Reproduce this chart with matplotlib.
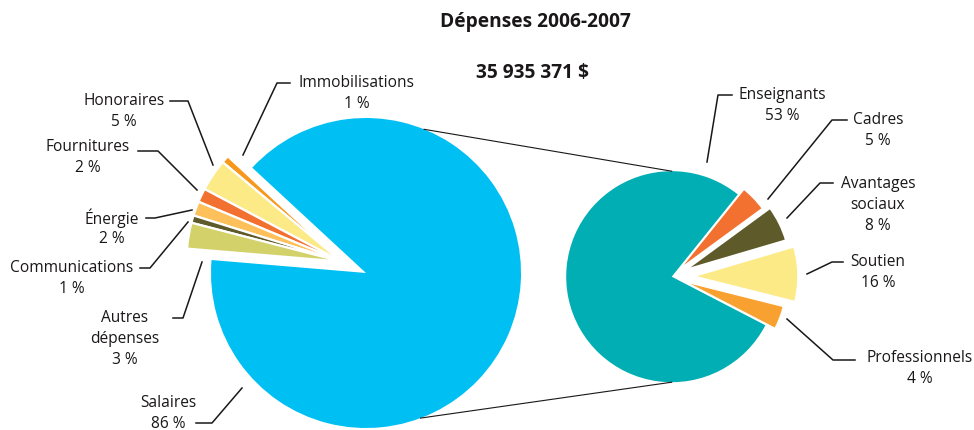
import matplotlib
matplotlib.use('Agg')
import matplotlib.pyplot as plt
import numpy as np

W, H = 974, 430

# left pie : total spending
left_names = ['Immobilisations', 'Honoraires', 'Fournitures', 'Énergie',
              'Communications', 'Autres\ndépenses', 'Salaires']
left_pct = [1, 5, 2, 2, 1, 3, 86]
# slice sizes as they are drawn in the source picture (degrees)
left_angles = [2.9, 12.0, 5.2, 5.4, 2.8, 9.7, 322.0]
left_colors = ['#F7981D', '#FCEA87', '#F37130', '#FDC05A', '#5E5A2A', '#D3D16A', '#00BFF3']

# right pie : detail of salaries
right_names = ['Cadres', 'Avantages\nsociaux', 'Soutien', 'Professionnels', 'Enseignants']
right_pct = [5, 8, 16, 4, 53]
right_angles = [15.0, 19.8, 30.5, 13.3, 281.4]
right_colors = ['#F37130', '#5E5A2A', '#FCEA87', '#F9A130', '#00AEB3']

title = 'Dépenses 2006-2007'
total = '35 935 371 $'

plt.rcParams['font.family'] = ['Open Sans', 'DejaVu Sans']
txt_col = '#1A1718'

fig = plt.figure(figsize=(W / 100, H / 100), dpi=100)
ax = fig.add_axes([0, 0, 1, 1])

# pixel coords (from top) -> data coords
def P(x, y):
    return (x, H - y)

# left pie
lc, lr = P(366, 273), 155
lw, _ = ax.pie(left_angles, colors=left_colors, startangle=137.2, counterclock=True,
               center=lc, radius=lr,
               wedgeprops=dict(edgecolor='white', linewidth=1.6))
# the small slices are pulled out together
a = np.radians(155)
shift = (lc[0] + 27 * np.cos(a), lc[1] + 27 * np.sin(a))
for w in lw[:-1]:
    w.set_center(shift)
lw[-1].set_linewidth(0)

# right pie (explode is in data units here, so scale by radius)
rc, rr = P(671.7, 276.7), 105.5
rw, _ = ax.pie(right_angles, colors=right_colors, startangle=51.2, counterclock=False,
               center=rc, radius=rr,
               explode=[e * rr for e in [0.08, 0.14, 0.2, 0.1, 0]],
               wedgeprops=dict(edgecolor='white', linewidth=1.6))
rw[-1].set_linewidth(0)

# connector lines between the two pies
for ang, end in [(68, (rc[0], rc[1] + rr)), (-69.4, (rc[0], rc[1] - rr))]:
    t = np.radians(ang)
    ax.plot([lc[0] + lr * np.cos(t), end[0]], [lc[1] + lr * np.sin(t), end[1]],
            color=txt_col, lw=0.8)

# labels: first line centre and leader polyline (pixel coords)
left_pos = [(357, 83), (124, 101), (88, 147), (112, 218), (72, 268), (125, 318), (168, 403)]
left_lead = [
    [(290, 83), (277, 83), (243, 155)],
    [(170, 101), (188, 101), (213, 165)],
    [(138, 151), (158, 151), (197, 190)],
    [(146, 218), (155, 218), (192, 210)],
    [(140, 268), (150, 268), (188, 222)],
    [(173, 318), (183, 318), (202, 262)],
    [(196, 423), (212, 423), (242, 388)],
]
right_pos = [(878, 120), (878, 184), (878, 262), (920, 358), (782, 95)]
right_lead = [
    [(847, 120), (832, 120), (768, 199)],
    [(833, 183), (820, 183), (787, 218)],
    [(843, 262), (832, 262), (807, 274)],
    [(855, 360), (833, 360), (787, 319)],
    [(732, 95), (718, 95), (707, 162)],
]

for names, pcts, pos, leads in [(left_names, left_pct, left_pos, left_lead),
                                 (right_names, right_pct, right_pos, right_lead)]:
    for name, pct, (x, y), pts in zip(names, pcts, pos, leads):
        lines = name.split('\n') + [f'{pct} %']
        for j, line in enumerate(lines):
            ax.text(*P(x, y + 21 * j), line, ha='center', va='center',
                    fontsize=11.2, color=txt_col)
        xs, ys = zip(*[P(px, py) for px, py in pts])
        ax.plot(xs, ys, color=txt_col, lw=1.1)

ax.text(*P(535, 22), title, ha='center', va='center', fontsize=13.8,
        fontweight='bold', color=txt_col)
ax.text(*P(533, 73), total, ha='center', va='center', fontsize=13.8,
        fontweight='bold', color=txt_col)

ax.set_xlim(0, W)
ax.set_ylim(0, H)
ax.set_aspect('equal')
ax.set_axis_off()

fig.savefig('out.png', dpi=100)
